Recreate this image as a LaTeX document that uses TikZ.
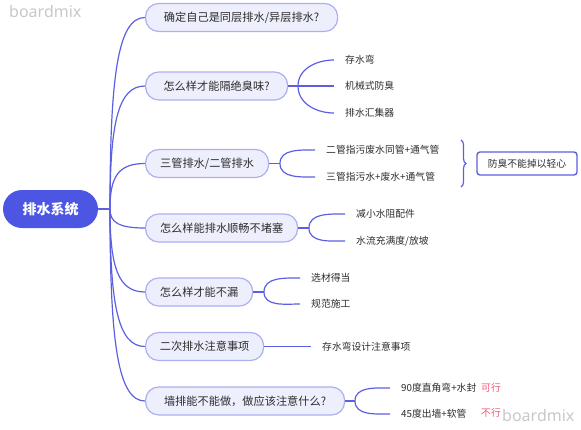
\documentclass[tikz,border=0pt]{standalone}
\usepackage{fontspec}
\setmainfont{Noto Sans CJK SC}
\newfontfamily\wmfont{Noto Sans}
\usetikzlibrary{decorations.pathreplacing}
\definecolor{lineblue}{RGB}{92,96,224}
\definecolor{rootblue}{RGB}{76,86,226}
\definecolor{lvfill}{RGB}{238,239,252}
\definecolor{lvdraw}{RGB}{172,175,240}
\definecolor{txt}{RGB}{45,45,45}
\definecolor{okred}{RGB}{240,90,120}
\definecolor{wm}{RGB}{200,200,200}
\begin{document}
\begin{tikzpicture}[x=1pt,y=-1pt,
  rootnode/.style={fill=rootblue, text=white, font=\fontsize{14}{16}\selectfont\bfseries, rounded corners=19pt, minimum width=95pt, minimum height=38pt, inner sep=0pt},
  lvone/.style={fill=lvfill, draw=lvdraw, line width=1.2pt, rounded corners=13pt, minimum height=28pt, inner sep=0pt, anchor=west, font=\fontsize{11.2}{13}\selectfont, text=txt},
  leaf/.style={anchor=west, inner xsep=11pt, inner ysep=2pt, font=\fontsize{9.8}{11}\selectfont, text=txt},
  redtag/.style={anchor=west, inner sep=0pt, font=\fontsize{9.8}{11}\selectfont, text=okred},
  conn/.style={draw=lineblue, line width=1.2pt},
  wmark/.style={text=wm, font=\wmfont\fontsize{16}{18}\selectfont, inner sep=0pt}
]
\useasboundingbox (0,0) rectangle (581,429);

% watermarks
\node[wmark, anchor=west] (wm1) at (9,11) {boardmix};
\node[wmark, anchor=west] (wm2) at (502,415) {boardmix};

% root
\node[rootnode] (root) at (50.5,209) {排水系统};
\coordinate (rb) at (110,209);

% level one
\node[lvone, minimum width=192pt] (n1) at (145,17.5) {确定自己是同层排水/异层排水?};
\node[lvone, minimum width=142pt] (n2) at (145,86) {怎么样才能隔绝臭味?};
\node[lvone, minimum width=123pt] (n3) at (145,163.5) {三管排水/二管排水};
\node[lvone, minimum width=152pt] (n4) at (145,228) {怎么样能排水顺畅不堵塞};
\node[lvone, minimum width=107pt] (n5) at (145,292) {怎么样才能不漏};
\node[lvone, minimum width=118pt] (n6) at (145,346.5) {二次排水注意事项};
\node[lvone, minimum width=199pt] (n7) at (145,401) {墙排能不能做，做应该注意什么?};

\draw[conn] (root.east) -- (rb);
\draw[conn] (rb) .. controls (110,75) and (118,17.5) .. (n1.west);
\draw[conn] (rb) .. controls (110,123) and (118,86) .. (n2.west);
\draw[conn] (rb) .. controls (110,177) and (118,163.5) .. (n3.west);
\draw[conn] (rb) .. controls (110,222) and (118,228) .. (n4.west);
\draw[conn] (rb) .. controls (110,267) and (118,292) .. (n5.west);
\draw[conn] (rb) .. controls (110,305) and (118,346.5) .. (n6.west);
\draw[conn] (rb) .. controls (110,343) and (118,401) .. (n7.west);

% children of n2
\node[leaf] (c21) at (334,60) {存水弯};
\node[leaf] (c22) at (334,86) {机械式防臭};
\node[leaf] (c23) at (334,113) {排水汇集器};
\coordinate (b2) at (298,86);
\draw[conn] (n2.east) -- (b2) -- (c22.west);
\draw[conn] (b2) to[out=90,in=180] (c21.west);
\draw[conn] (b2) to[out=-90,in=180] (c23.west);

% children of n3
\node[leaf] (c31) at (315,150) {二管指污废水同管+通气管};
\node[leaf] (c32) at (315,177) {三管指污水+废水+通气管};
\coordinate (b3) at (280,163.5);
\draw[conn] (n3.east) -- (b3);
\draw[conn] (b3) to[out=90,in=180] (c31.west);
\draw[conn] (b3) to[out=-90,in=180] (c32.west);
\coordinate (brt) at (461,140);
\coordinate (brb) at (461,187);
\draw[conn, decorate, decoration={brace, amplitude=5pt}] (brt) -- (brb);
\node[draw=lineblue, line width=1.4pt, rounded corners=3pt, fill=white, minimum width=100pt, minimum height=23pt, inner sep=0pt, font=\fontsize{9.8}{11}\selectfont, text=txt] (note) at (527,163.5) {防臭不能掉以轻心};

% children of n4
\node[leaf] (c41) at (345,214) {减小水阻配件};
\node[leaf] (c42) at (345,241) {水流充满度/放坡};
\coordinate (b4) at (309,228);
\draw[conn] (n4.east) -- (b4);
\draw[conn] (b4) to[out=90,in=180] (c41.west);
\draw[conn] (b4) to[out=-90,in=180] (c42.west);

% children of n5
\node[leaf] (c51) at (300,278) {选材得当};
\node[leaf] (c52) at (300,304) {规范施工};
\coordinate (b5) at (264,292);
\draw[conn] (n5.east) -- (b5);
\draw[conn] (b5) to[out=90,in=180] (c51.west);
\draw[conn] (b5) to[out=-90,in=180] (c52.west);

% child of n6
\node[leaf] (c61) at (311,346.5) {存水弯设计注意事项};
\draw[conn] (n6.east) -- (c61.west);

% children of n7
\node[leaf] (c71) at (390,388) {90度直角弯+水封};
\node[leaf] (c72) at (390,414) {45度出墙+软管};
\node[redtag] (r71) at (481,388) {可行};
\node[redtag] (r72) at (481,413) {不行};
\coordinate (b7) at (355,401);
\draw[conn] (n7.east) -- (b7);
\draw[conn] (b7) to[out=90,in=180] (c71.west);
\draw[conn] (b7) to[out=-90,in=180] (c72.west);
\end{tikzpicture}
\end{document}
